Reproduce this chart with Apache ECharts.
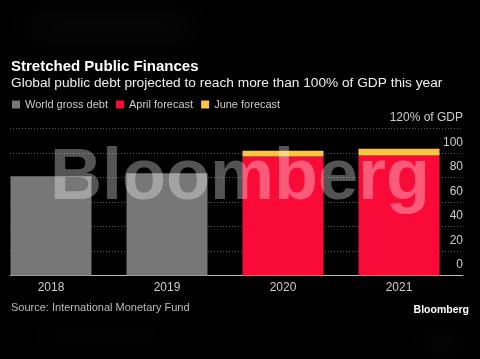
<!DOCTYPE html>
<html>
<head>
<meta charset="utf-8">
<script src="https://cdn.jsdelivr.net/npm/echarts@6/dist/echarts.min.js"></script>
<style>
  html, body { margin: 0; padding: 0; background: #000; }
  #chart { width: 480px; height: 359px; }
</style>
</head>
<body>
<div id="chart"></div>
<script>
var years = ['2018', '2019', '2020', '2021'];
var worldDebt = [81, 83.5, null, null];
var aprilForecast = [null, null, 97.2, 98];
var juneExtra = [null, null, 4.7, 5.5];   // June forecast minus April forecast
var yTicks = [0, 20, 40, 60, 80, 100, 120];

var font = 'Liberation Sans';

// soft blurred smudge (shadow of an off-canvas rect)
function smudge(x, y, w, h, color, blur) {
    return {
        type: 'rect', z: -1, silent: true,
        shape: { x: x, y: y - 1000, width: w, height: h },
        style: { fill: color, shadowBlur: blur, shadowColor: color, shadowOffsetY: 1000 }
    };
}

var option = {
    backgroundColor: '#000',
    animation: false,
    title: [
        {
            text: 'Stretched Public Finances',
            left: 6, top: 54,
            textStyle: { color: '#fff', fontSize: 15, fontWeight: 'bold', fontFamily: font }
        },
        {
            text: 'Global public debt projected to reach more than 100% of GDP this year',
            left: 6, top: 71,
            textStyle: { color: '#eee', fontSize: 13.7, fontWeight: 'normal', fontFamily: font }
        },
        {
            text: 'Source: International Monetary Fund',
            left: 6, top: 297,
            textStyle: { color: '#bbb', fontSize: 11, fontWeight: 'normal', fontFamily: font }
        },
        {
            text: 'Bloomberg',
            right: 6, top: 300,
            textStyle: { color: '#fff', fontSize: 10.5, fontWeight: 'bold', fontFamily: font }
        }
    ],
    legend: {
        left: 7, top: 94,
        icon: 'rect',
        itemWidth: 8, itemHeight: 8, itemGap: 8,
        textStyle: { color: '#ccc', fontSize: 11, fontFamily: font },
        data: ['World gross debt', 'April forecast', 'June forecast']
    },
    grid: [
        // bars: category ticks sit on the bar centres
        { left: 51, right: 81, top: 128.5, bottom: 83.5 },
        // frame: gridlines, baseline and value labels
        { left: 10, right: 17, top: 128.5, bottom: 83.5 }
    ],
    xAxis: [
        {
            type: 'category', gridIndex: 0, data: years, boundaryGap: false,
            axisLine: { show: false },
            axisTick: { show: false },
            splitLine: { show: false },
            axisLabel: { color: '#ccc', fontSize: 12, fontFamily: font, margin: 6 }
        },
        {
            type: 'category', gridIndex: 1, data: years,
            axisLine: { lineStyle: { color: '#bbb', width: 1 } },
            axisTick: { show: false },
            axisLabel: { show: false }
        }
    ],
    yAxis: [
        {
            type: 'value', gridIndex: 0, min: 0, max: 120, interval: 20, show: false
        },
        {
            type: 'value', gridIndex: 1,
            position: 'right',
            min: 0, max: 120, interval: 20,
            axisLine: { show: false },
            axisTick: { show: false },
            splitLine: { lineStyle: { color: '#555', type: [1, 2], width: 1 } },
            axisLabel: {
                color: '#ccc', fontSize: 12, fontFamily: font,
                align: 'right', margin: 0,
                verticalAlign: 'bottom', lineHeight: 21,
                formatter: function (v) { return v === yTicks[yTicks.length - 1] ? v + '% of GDP' : v; }
            }
        }
    ],
    series: [
        {
            name: 'World gross debt', type: 'bar', stack: 'debt', barWidth: 81,
            itemStyle: { color: '#777' }, data: worldDebt
        },
        {
            name: 'April forecast', type: 'bar', stack: 'debt', barWidth: 81,
            itemStyle: { color: '#fa0a37' }, data: aprilForecast
        },
        {
            name: 'June forecast', type: 'bar', stack: 'debt', barWidth: 81,
            itemStyle: { color: '#fbc541' }, data: juneExtra
        }
    ],
    graphic: [
        smudge(30, 25, 160, 4, '#3a3a3a', 34),
        smudge(40, 333, 130, 3, '#1e1e1e', 30),
        smudge(425, 340, 35, 4, '#262626', 28),
        {
            type: 'text', z: 100, silent: true,
            x: 240, y: 179,
            style: {
                text: 'Bloomberg',
                fill: 'rgba(255,255,255,0.33)',
                font: 'bold 72px "Liberation Sans"',
                align: 'center', verticalAlign: 'middle'
            }
        }
    ]
};

var myChart = echarts.init(document.getElementById('chart'));
myChart.setOption(option);
</script>
</body>
</html>
